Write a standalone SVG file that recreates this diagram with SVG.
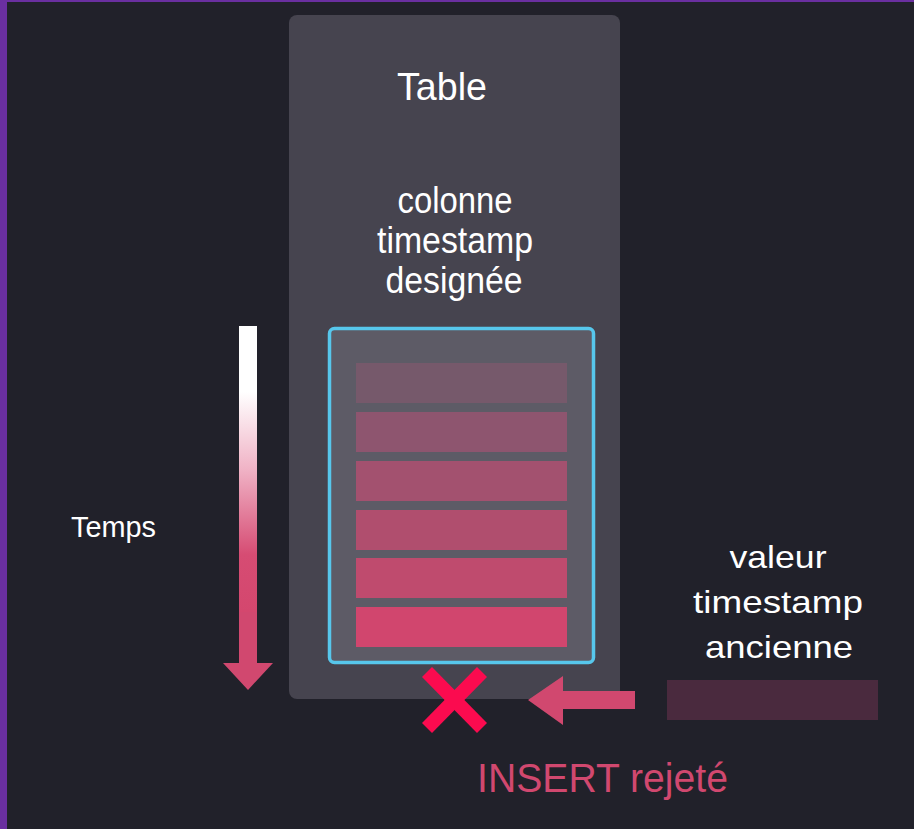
<svg xmlns="http://www.w3.org/2000/svg" width="914" height="829" viewBox="0 0 914 829">
  <defs>
    <linearGradient id="timeGrad" x1="0" y1="326" x2="0" y2="612" gradientUnits="userSpaceOnUse">
      <stop offset="0" stop-color="#ffffff"/>
      <stop offset="0.23" stop-color="#ffffff"/>
      <stop offset="0.5" stop-color="#f0b3c6"/>
      <stop offset="0.8" stop-color="#d64c73"/>
      <stop offset="1" stop-color="#d4476e"/>
    </linearGradient>
    <style>
      .lbl { font-family: "Liberation Sans", Arial, sans-serif; fill: #ffffff; }
      .mid { text-anchor: middle; }
      .row { stroke: none; }
      .pink { fill: #d1486f; }
    </style>
  </defs>

  <rect x="0" y="0" width="914" height="829" fill="#6a2fa0"/>
  <rect x="7" y="2" width="907" height="827" fill="#21212a"/>

  <g id="table">
    <rect x="289" y="15" width="331" height="684" rx="8" fill="#46444f"/>
    <text class="lbl mid" x="442" y="100" font-size="39" textLength="90" lengthAdjust="spacingAndGlyphs">Table</text>
    <text class="lbl mid" x="455" y="213" font-size="36" textLength="115" lengthAdjust="spacingAndGlyphs">colonne</text>
    <text class="lbl mid" x="455" y="253" font-size="36" textLength="156" lengthAdjust="spacingAndGlyphs">timestamp</text>
    <text class="lbl mid" x="454" y="293" font-size="36" textLength="137" lengthAdjust="spacingAndGlyphs">designée</text>
  </g>

  <g id="timestamp-column">
    <rect x="329.5" y="328.5" width="264" height="334" rx="5" fill="#5d5b66" stroke="#57c7ec" stroke-width="3.5"/>
    <rect class="row" x="356" y="363" width="211" height="40" fill="#76596b"/>
    <rect class="row" x="356" y="412" width="211" height="40" fill="#8e556f"/>
    <rect class="row" x="356" y="461" width="211" height="40" fill="#a3516f"/>
    <rect class="row" x="356" y="510" width="211" height="40" fill="#b04e6e"/>
    <rect class="row" x="356" y="558" width="211" height="40" fill="#bf4b6e"/>
    <rect class="row" x="356" y="607" width="211" height="40" fill="#d1466e"/>
  </g>

  <g id="temps">
    <text class="lbl" x="71" y="537" font-size="30" textLength="85" lengthAdjust="spacingAndGlyphs">Temps</text>
  </g>

  <g id="old-value">
    <text class="lbl mid" x="778" y="568" font-size="32" textLength="97" lengthAdjust="spacingAndGlyphs">valeur</text>
    <text class="lbl mid" x="778" y="613" font-size="32" textLength="170" lengthAdjust="spacingAndGlyphs">timestamp</text>
    <text class="lbl mid" x="779" y="658" font-size="32" textLength="148" lengthAdjust="spacingAndGlyphs">ancienne</text>
    <rect x="667" y="680" width="211" height="40" fill="#4a2a3e"/>
  </g>

  <g id="rejected">
    <g stroke="#fb0b4f" stroke-width="14">
      <line x1="427" y1="672" x2="482" y2="728"/>
      <line x1="482" y1="672" x2="427" y2="728"/>
    </g>
    <text class="lbl" x="477" y="792" font-size="40" style="fill:#d1486f" textLength="251" lengthAdjust="spacingAndGlyphs">INSERT rejeté</text>
  </g>

  <g id="connectors">
    <rect x="239" y="326" width="18" height="286" fill="url(#timeGrad)"/>
    <polygon class="pink" points="239,612 257,612 257,663 273,663 248,690 223,663 239,663"/>
    <polygon class="pink" points="635,691 563,691 563,676 528,700 563,725 563,709 635,709"/>
  </g>
</svg>
